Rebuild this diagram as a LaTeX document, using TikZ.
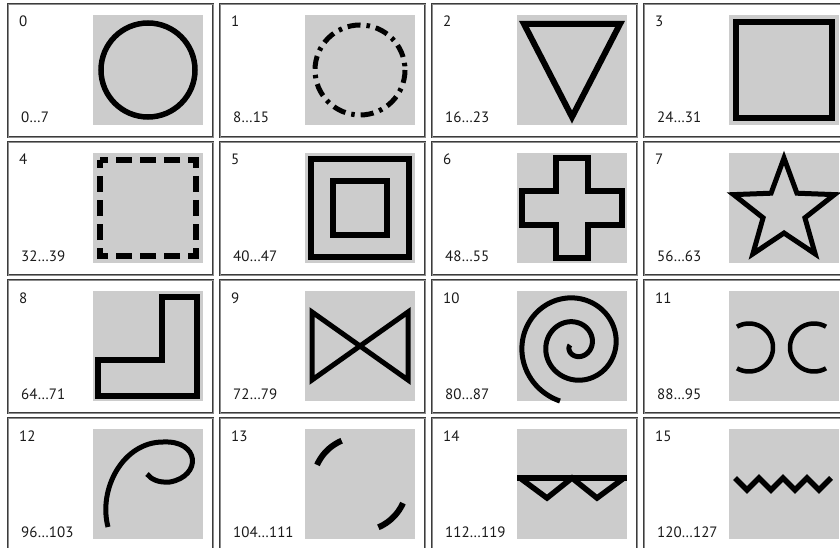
\documentclass[tikz,border=0pt]{standalone}
\usepackage{fontspec}
\setmainfont{PT Sans}
\definecolor{cellgray}{HTML}{CCCCCC}
\definecolor{framecol}{HTML}{3C3C3C}
\definecolor{txt}{HTML}{1A1A1A}
\tikzset{
  frame/.style={draw=framecol, line width=0.9pt, double=black!45, double distance=0.9pt},
  graybox/.style={fill=cellgray},
  shp/.style={draw=black, line width=5.5pt},
  numlbl/.style={anchor=base west, inner sep=0pt, text=txt, font=\fontsize{15}{17}\selectfont},
}
\begin{document}
\begin{tikzpicture}[x=1pt,y=-1pt]
\useasboundingbox (0,0) rectangle (840,548);
\clip (0,0) rectangle (840,548);
% frames, gray squares and labels
\foreach \r in {0,...,3}{
  \foreach \c in {0,...,3}{
    \pgfmathtruncatemacro{\idx}{4*\r+\c}
    \pgfmathtruncatemacro{\lo}{8*\idx}
    \pgfmathtruncatemacro{\hi}{8*\idx+7}
    \pgfmathsetmacro{\L}{8+212*\c}
    \pgfmathsetmacro{\T}{4+138*\r}
    \draw[frame] (\L,\T) rectangle ++(205,133);
    \fill[graybox] (\L+85,\T+11) rectangle ++(110,110);
    \node[numlbl] (top\idx) at (\L+11,\T+23) {\idx};
    \node[numlbl] (bot\idx) at (\L+13,\T+119) {\lo…\hi};
  }
}
% 0 circle
\begin{scope}[shift={(148,70)}]
  \draw[shp] (0,0) circle[radius=47];
\end{scope}
% 1 dash-dot circle
\begin{scope}[shift={(360,70)}]
  \draw[shp, line width=5pt, dash pattern=on 13pt off 6pt on 3.5pt off 6pt] (0,0) circle[radius=45];
\end{scope}
% 2 triangle
\begin{scope}[shift={(572,70)}]
  \draw[shp, line width=6pt] (-48,-46) -- (48,-46) -- (0,47) -- cycle;
\end{scope}
% 3 square
\begin{scope}[shift={(784,70)}]
  \draw[shp, line width=6.5pt] (-48,-48) rectangle (48,48);
\end{scope}
% 4 dashed square
\begin{scope}[shift={(148,208)}]
  \draw[shp, line width=6pt, dash pattern=on 16pt off 8pt, dash phase=8pt] (-48,-48) -- (48,-48) -- (48,48) -- (-48,48) -- cycle;
\end{scope}
% 5 double square
\begin{scope}[shift={(360,208)}]
  \draw[shp, line width=6pt] (-49,-49) rectangle (49,49);
  \draw[shp, line width=6pt] (-27,-27) rectangle (27,27);
\end{scope}
% 6 cross
\begin{scope}[shift={(572,208)}]
  \draw[shp] (-16,-50) -- (16,-50) -- (16,-17) -- (50,-17) -- (50,17) -- (16,17) -- (16,50) -- (-16,50) -- (-16,17) -- (-50,17) -- (-50,-17) -- (-16,-17) -- cycle;
\end{scope}
% 7 star
\begin{scope}[shift={(784,211)}]
  \draw[shp, line width=5pt] (-90:53) -- (-54:22) -- (-18:53) -- (18:22) -- (54:53) -- (90:22) -- (126:53) -- (162:22) -- (198:53) -- (234:22) -- cycle;
\end{scope}
% 8 L shape
\begin{scope}[shift={(148,346)}]
  \draw[shp, line width=6pt] (-50,14) -- (14,14) -- (14,-49) -- (49,-49) -- (49,50) -- (-50,50) -- cycle;
\end{scope}
% 9 bowtie
\begin{scope}[shift={(360,346)}]
  \draw[shp, line width=5pt] (-48,-34) -- (48,34) -- (48,-34) -- (-48,34) -- cycle;
\end{scope}
% 10 spiral
\begin{scope}[shift={(572,346)}]
  \draw[shp, line width=5pt] plot[domain=0:795, samples=240, smooth] ({3+(5+\x/15)*cos(180-\x)}, {-1+(5+\x/15)*sin(180-\x)});
\end{scope}
% 11 two arcs
\begin{scope}[shift={(784,346)}]
  \draw[shp, line width=4.5pt] plot[domain=-120:120, samples=60, smooth] ({-35+24*cos(\x)}, {1.5+24*sin(\x)});
  \draw[shp, line width=4.5pt] plot[domain=60:300, samples=60, smooth] ({30+24*cos(\x)}, {1.5+24*sin(\x)});
\end{scope}
% 12 hook
\begin{scope}[shift={(148,484)}]
  \draw[shp, line width=5pt] (-40,43) .. controls (-50,5) and (-25,-42) .. (15,-42) .. controls (52,-44) and (54,-8) .. (22,-2) .. controls (10,-1) and (3,-5) .. (-1,-10);
\end{scope}
% 13 arcs of circle
\begin{scope}[shift={(360,484)}]
  \draw[shp, line width=6pt] plot[domain=204:247, samples=30, smooth] ({47*cos(\x)}, {47*sin(\x)});
  \draw[shp, line width=6pt] plot[domain=24:67, samples=30, smooth] ({47*cos(\x)}, {47*sin(\x)});
\end{scope}
% 14 line with triangles
\begin{scope}[shift={(572,484)}]
  \draw[shp] (-55,-6) -- (55,-6);
  \draw[shp] (-52,-6) -- (-25,14) -- (0,-6) -- (25,14) -- (52,-6);
\end{scope}
% 15 zigzag
\begin{scope}[shift={(784,484)}]
  \draw[shp] (-49,-6) -- (-37,6) -- (-25,-6) -- (-13,6) -- (-1,-6) -- (11,6) -- (23,-6) -- (35,6) -- (47,-6);
\end{scope}
\end{tikzpicture}
\end{document}
